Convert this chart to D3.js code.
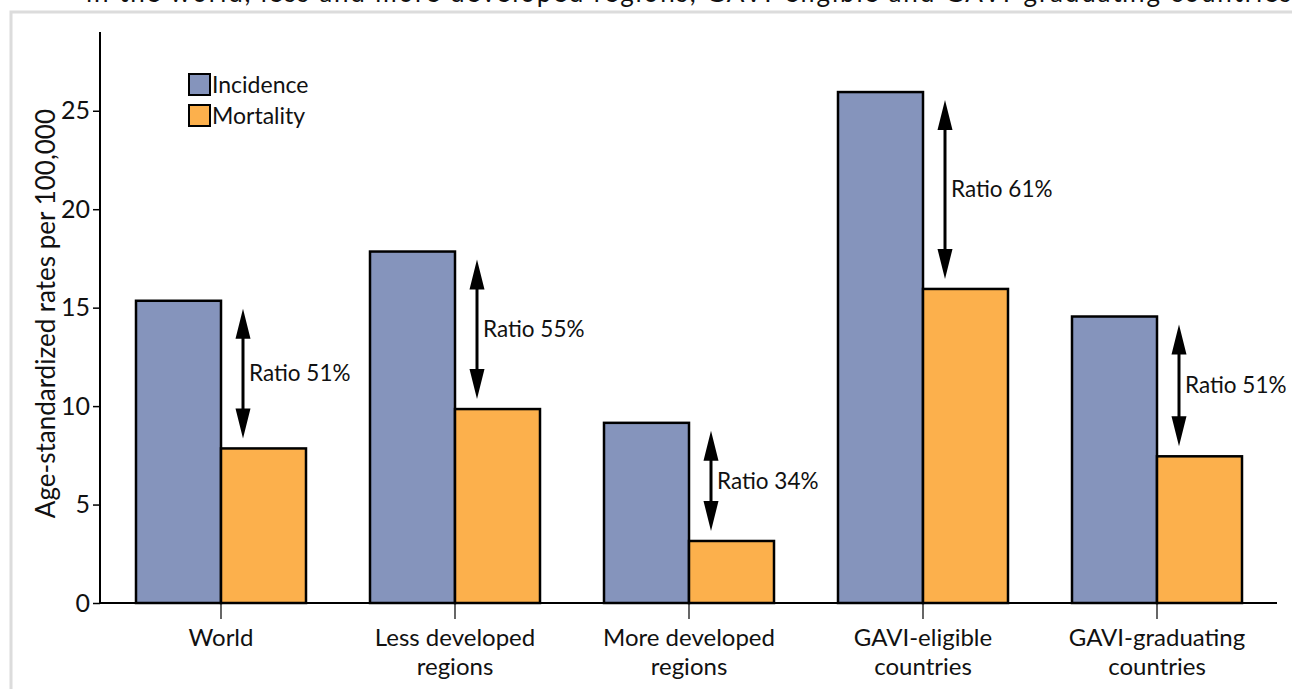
<!DOCTYPE html>
<html>
<head>
<meta charset="utf-8">
<script src="https://cdn.jsdelivr.net/npm/d3@7"></script>
<style>
  body { margin: 0; background: #fff; }
  svg { display: block; font-family: Lato, "Open Sans", sans-serif; }
</style>
</head>
<body>
<div id="chart"></div>
<script>
// values (age-standardized rates per 100,000)
const categories = [
  ['World'],
  ['Less developed', 'regions'],
  ['More developed', 'regions'],
  ['GAVI-eligible', 'countries'],
  ['GAVI-graduating', 'countries']
];
const incidence = [15.35, 17.85, 9.15, 25.95, 14.55];
const mortality = [7.85, 9.85, 3.15, 15.95, 7.45];
const ratioLabels = ['Ratio 51%', 'Ratio 55%', 'Ratio 34%', 'Ratio 61%', 'Ratio 51%'];
const yTicks = [0, 5, 10, 15, 20, 25];
const seriesNames = ['Incidence', 'Mortality'];
const colors = ['#8594bc', '#fcb04c'];

const W = 1292;
const H = 689;

const svg = d3.select('#chart').append('svg')
  .attr('width', W)
  .attr('height', H);

// caption line, cut off by the top of the page as in the source
svg.append('text')
  .attr('x', 86)
  .attr('y', 2)
  .attr('font-size', 26)
  .attr('fill', '#111')
  .attr('textLength', 1205)
  .attr('lengthAdjust', 'spacing')
  .text('in the world, less and more developed regions, GAVI-eligible and GAVI-graduating countries');

// light grey frame
svg.append('path')
  .attr('d', `M${11},${H + 5}V${12}H${W + 5}`)
  .attr('fill', 'none')
  .attr('stroke', '#dcdcdc')
  .attr('stroke-width', 3);

const y = d3.scaleLinear().domain([0, 29]).range([603, 32]);
const x = d3.scaleBand().domain(d3.range(categories.length)).range([104, 1274]);
const barW = 85;

// y axis
const yAxis = svg.append('g')
  .attr('transform', 'translate(100,0)')
  .call(d3.axisLeft(y).tickValues(yTicks).tickSize(7).tickPadding(3));
yAxis.select('.domain').attr('stroke-width', 2).attr('d', `M0,${y(29)}V${y(0)}`);
yAxis.selectAll('.tick line').attr('stroke-width', 1.5);
yAxis.selectAll('.tick text').attr('font-size', 25).attr('fill', '#111')
  .attr('font-family', 'Lato, sans-serif');

svg.append('text')
  .attr('transform', `translate(55,${y(14.7)}) rotate(-90)`)
  .attr('text-anchor', 'middle')
  .attr('font-size', 26)
  .attr('fill', '#111')
  .text('Age-standardized rates per 100,000');

// bars
const groups = svg.append('g').selectAll('g')
  .data(categories)
  .join('g')
  .attr('transform', (d, i) => `translate(${x(i) + x.bandwidth() / 2},0)`);

groups.append('rect')
  .attr('x', -barW)
  .attr('y', (d, i) => y(incidence[i]))
  .attr('width', barW)
  .attr('height', (d, i) => y(0) - y(incidence[i]))
  .attr('fill', colors[0])
  .attr('stroke', '#000')
  .attr('stroke-width', 2.5);

groups.append('rect')
  .attr('x', 0)
  .attr('y', (d, i) => y(mortality[i]))
  .attr('width', barW)
  .attr('height', (d, i) => y(0) - y(mortality[i]))
  .attr('fill', colors[1])
  .attr('stroke', '#000')
  .attr('stroke-width', 2.5);

// x axis
svg.append('line')
  .attr('x1', 100).attr('x2', 1277)
  .attr('y1', y(0)).attr('y2', y(0))
  .attr('stroke', '#000').attr('stroke-width', 2);

groups.append('line')
  .attr('y1', y(0)).attr('y2', y(0) + 16)
  .attr('stroke', '#000').attr('stroke-width', 1.2);

groups.append('text')
  .attr('text-anchor', 'middle')
  .attr('font-size', 24)
  .attr('fill', '#111')
  .selectAll('tspan')
  .data(d => d)
  .join('tspan')
  .attr('x', 0)
  .attr('y', (d, j) => 646 + j * 29)
  .text(d => d);

// double arrows between incidence and mortality
const arrowX = 22;
const headL = 30;
const headW = 7.5;
groups.each(function (d, i) {
  const g = d3.select(this);
  const top = y(incidence[i]) + 8;
  const bottom = y(mortality[i]) - 10;
  g.append('line')
    .attr('x1', arrowX).attr('x2', arrowX)
    .attr('y1', top + 10).attr('y2', bottom - 10)
    .attr('stroke', '#000').attr('stroke-width', 3);
  g.append('path')
    .attr('d', `M${arrowX},${top}L${arrowX + headW},${top + headL}L${arrowX - headW},${top + headL}Z`)
    .attr('fill', '#000');
  g.append('path')
    .attr('d', `M${arrowX},${bottom}L${arrowX + headW},${bottom - headL}L${arrowX - headW},${bottom - headL}Z`)
    .attr('fill', '#000');
  g.append('text')
    .attr('x', arrowX + 6)
    .attr('y', (top + bottom) / 2)
    .attr('dy', '0.35em')
    .attr('font-size', 22.5)
    .attr('fill', '#111')
    .text(ratioLabels[i]);
});

// legend
const legend = svg.append('g').attr('transform', 'translate(189,74)');
seriesNames.forEach((name, i) => {
  legend.append('rect')
    .attr('x', 0).attr('y', i * 31)
    .attr('width', 21).attr('height', 21)
    .attr('fill', colors[i])
    .attr('stroke', '#000').attr('stroke-width', 2);
  legend.append('text')
    .attr('x', 23).attr('y', i * 31 + 19)
    .attr('font-size', 23)
    .attr('fill', '#111')
    .text(name);
});
</script>
</body>
</html>
